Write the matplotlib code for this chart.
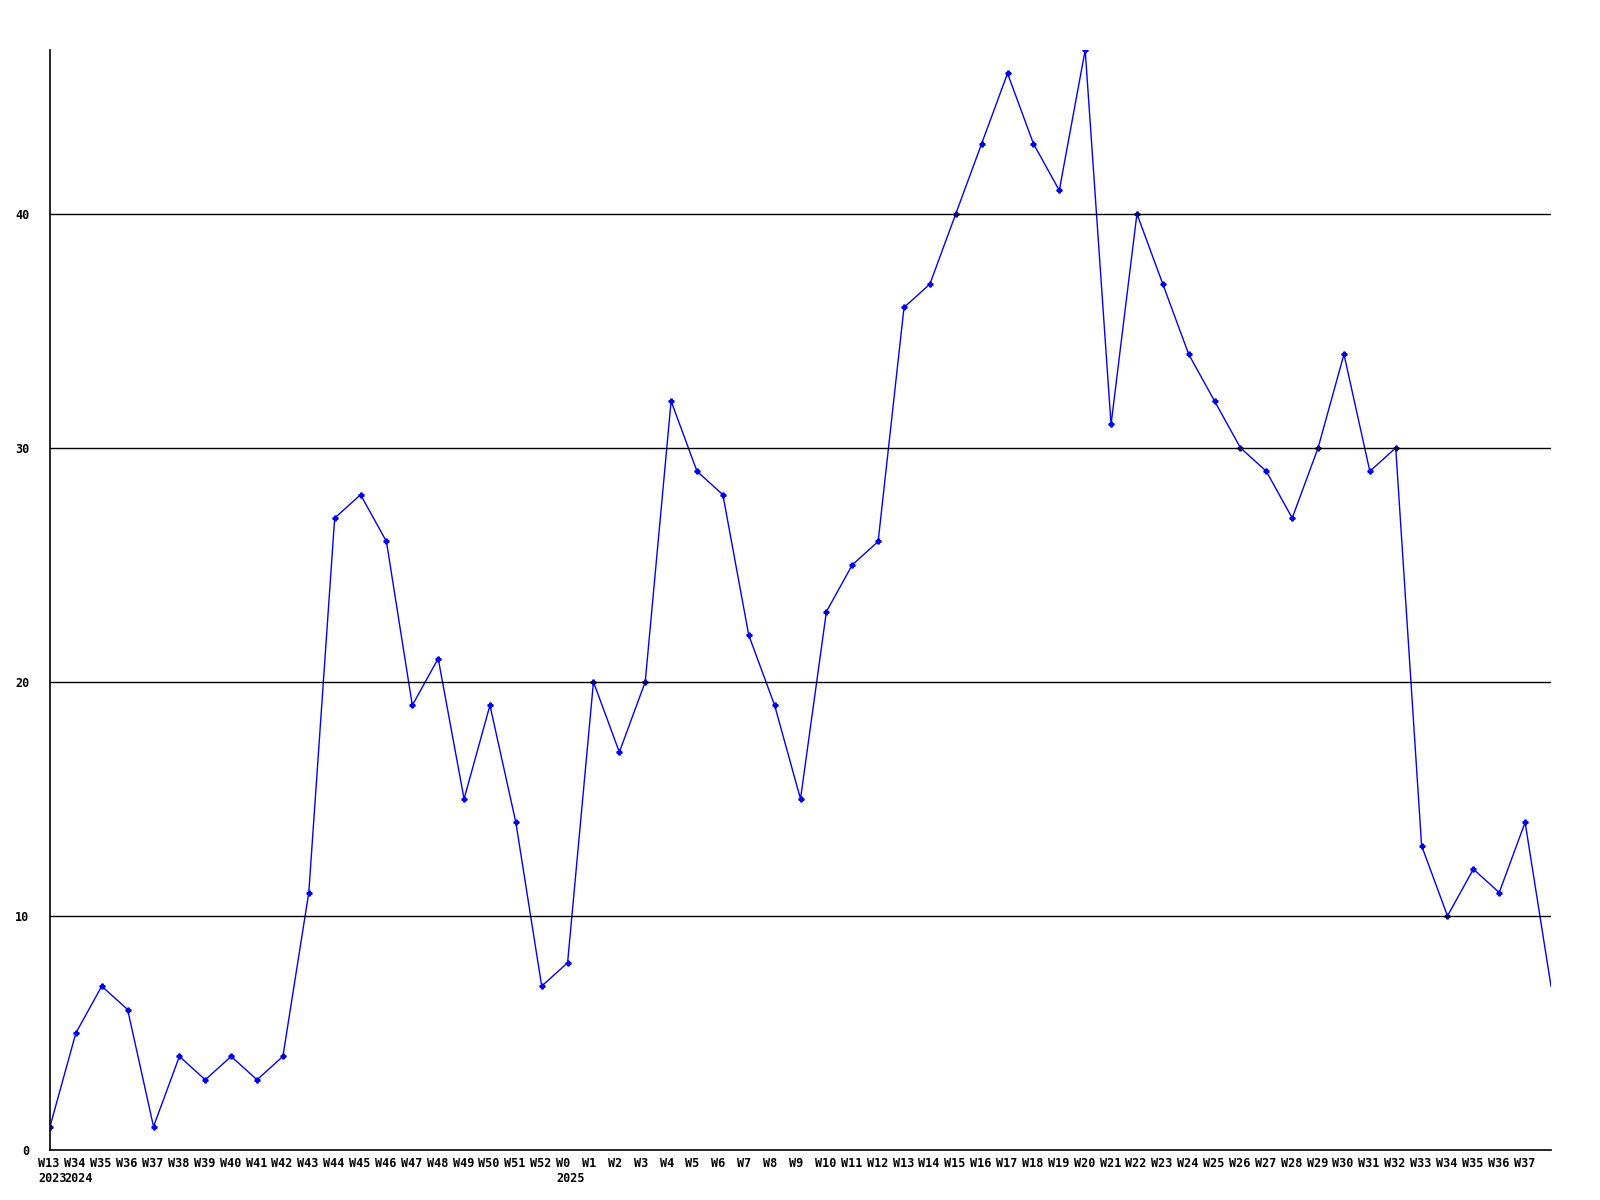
import matplotlib.pyplot as plt
from matplotlib.transforms import ScaledTranslation

weeks = ["W13", "W34", "W35", "W36", "W37", "W38", "W39", "W40", "W41", "W42",
         "W43", "W44", "W45", "W46", "W47", "W48", "W49", "W50", "W51", "W52",
         "W0", "W1", "W2", "W3", "W4", "W5", "W6", "W7", "W8", "W9",
         "W10", "W11", "W12", "W13", "W14", "W15", "W16", "W17", "W18", "W19",
         "W20", "W21", "W22", "W23", "W24", "W25", "W26", "W27", "W28", "W29",
         "W30", "W31", "W32", "W33", "W34", "W35", "W36", "W37"]
years = {0: "2023", 1: "2024", 20: "2025"}
values = [1, 5, 7, 6, 1, 4, 3, 4, 3, 4,
          11, 27, 28, 26, 19, 21, 15, 19, 14, 7,
          8, 20, 17, 20, 32, 29, 28, 22, 19, 15,
          23, 25, 26, 36, 37, 40, 43, 46, 43, 41,
          47, 31, 40, 37, 34, 32, 30, 29, 27, 30,
          34, 29, 30, 13, 10, 12, 11, 14]
last_value = 7  # line runs off the right edge

fig = plt.figure(figsize=(16, 12), dpi=100)
ax = fig.add_axes([50 / 1600, 50 / 1200, 1501 / 1600, 1100 / 1200])

x = list(range(len(values)))
ax.plot(x + [len(values)], values + [last_value], color='#0000ff', linewidth=1)
ax.plot(x, values, linestyle='none', marker='P', markersize=3.5, color='#0000ff')

ax.set_xlim(0, len(values))
ax.set_ylim(0, 47)

for y in [10, 20, 30, 40]:
    ax.axhline(y, color='black', linewidth=1)

labels = [w + ("\n" + years[i] if i in years else "") for i, w in enumerate(weeks)]
ax.set_xticks(x)
ax.set_xticklabels(labels, ha='left', va='top', linespacing=1.25)
ax.set_yticks([0, 10, 20, 30, 40])

for spine in ['top', 'right']:
    ax.spines[spine].set_visible(False)
for spine in ['left', 'bottom']:
    ax.spines[spine].set_linewidth(1.2)

ax.tick_params(axis='both', length=0, labelsize=8.5, colors='black')
ax.tick_params(axis='x', pad=5)
ax.tick_params(axis='y', pad=15)
shift = ScaledTranslation(-0.115, 0, fig.dpi_scale_trans)
for lbl in ax.get_xticklabels():
    lbl.set_transform(lbl.get_transform() + shift)
    lbl.set_multialignment('left')
for lbl in ax.get_xticklabels() + ax.get_yticklabels():
    lbl.set_family('DejaVu Sans Mono')
    lbl.set_fontweight('bold')

plt.savefig('out.png', dpi=100)
